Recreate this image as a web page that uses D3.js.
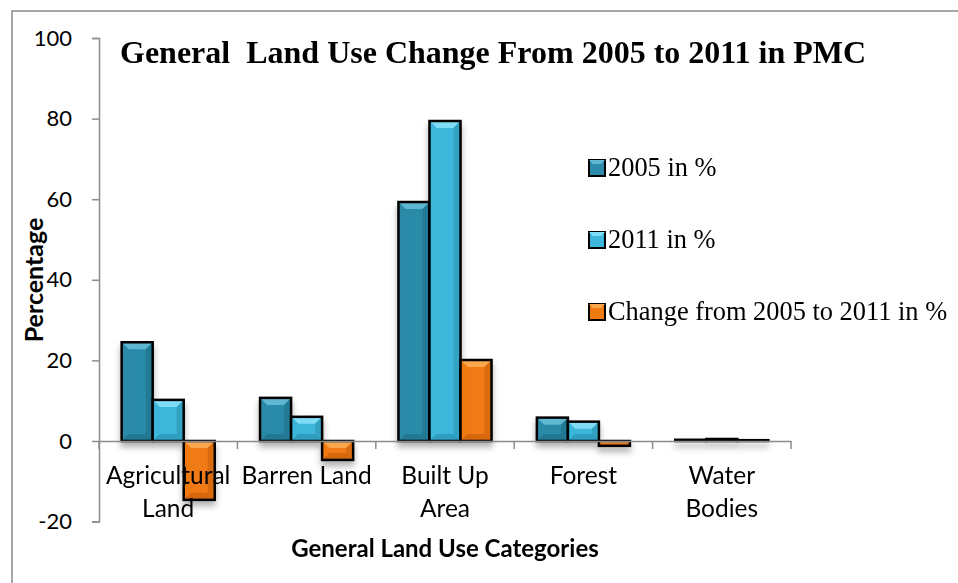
<!DOCTYPE html>
<html><head><meta charset="utf-8">
<script src="https://cdn.jsdelivr.net/npm/d3@7"></script>
<style>body{margin:0;background:#fff}svg{display:block}</style>
</head><body>
<svg id="c" width="958" height="583"></svg>
<script>
const categories = [["Agricultural","Land"],["Barren Land"],["Built Up","Area"],["Forest"],["Water","Bodies"]];
const categoryKeys = ["Agricultural Land","Barren Land","Built Up Area","Forest","Water Bodies"];
const seriesNames = ["2005 in %","2011 in %","Change from 2005 to 2011 in %"];
const values2005 = [24.5, 10.7, 59.3, 5.8, 0.3];
const values2011 = [10.2, 6.0, 79.4, 4.8, 0.5];
const valuesChange = [-14.6, -4.7, 20.1, -1.2, 0.2];
const yTicks = [-20, 0, 20, 40, 60, 80, 100];
const seriesColors = ["#2B8BA8", "#3CB6DA", "#F07A12"];
const seriesLight = ["#5FB7D1", "#7FDDF6", "#F9A64E"];
const seriesDark = ["#1F6F87", "#2A93B3", "#C9600A"];

const svg = d3.select("#c");
const defs = svg.append("defs");
const f = defs.append("filter").attr("id","sh").attr("x","-30%").attr("y","-30%").attr("width","160%").attr("height","160%");
f.append("feDropShadow").attr("dx",0).attr("dy",5).attr("stdDeviation",3).attr("flood-color","#000").attr("flood-opacity",0.3);

// outer frame
svg.append("rect").attr("x",12).attr("y",11).attr("width",980).attr("height",600)
  .attr("fill","none").attr("stroke","#8a8a8a").attr("stroke-width",1.5);

const y = d3.scaleLinear().domain([-20,100]).range([521.6,38]);
const x0 = d3.scaleBand().domain(categoryKeys).range([99,791]).padding(0);
const x1 = d3.scaleBand().domain(seriesNames).range([0,x0.bandwidth()]).paddingInner(0).paddingOuter(0.73);

const axisColor = "#8c8c8c";
const sans = "Lato, 'Open Sans', sans-serif";
// y axis
const yAxis = svg.append("g").attr("transform","translate(99,0)")
  .call(d3.axisLeft(y).tickValues(yTicks).tickSize(7).tickPadding(20).tickFormat(d => String(d)));
yAxis.select(".domain").attr("stroke",axisColor).attr("stroke-width",1.5);
yAxis.selectAll(".tick line").attr("stroke",axisColor).attr("stroke-width",1.5);
yAxis.selectAll(".tick text").attr("font-family",sans).attr("font-size",22).attr("fill","#000");

const data = categoryKeys.map((c,i)=>({cat:c, vals:[values2005[i],values2011[i],valuesChange[i]]}));

const barsG = svg.append("g").attr("filter","url(#sh)");
data.forEach(d=>{
  d.vals.forEach((v,si)=>{
    const bx = x0(d.cat)+x1(seriesNames[si]);
    const bw = x1.bandwidth();
    const top = y(Math.max(0,v)), bot = y(Math.min(0,v));
    const h = bot-top;
    const g = barsG.append("g");
    g.append("rect").attr("x",bx).attr("y",top).attr("width",bw).attr("height",h).attr("fill",seriesColors[si]);
    const b = Math.min(7, h/2, bw/2);
    if (b > 0.5) {
      g.append("path").attr("d",`M${bx},${top}L${bx+bw},${top}L${bx+bw-b},${top+b}L${bx+b},${top+b}Z`).attr("fill",seriesLight[si]);
      g.append("path").attr("d",`M${bx},${top}L${bx+b},${top+b}L${bx+b},${bot-b}L${bx},${bot}Z`).attr("fill",seriesColors[si]).attr("opacity",0.9);
      g.append("path").attr("d",`M${bx+bw},${top}L${bx+bw-b},${top+b}L${bx+bw-b},${bot-b}L${bx+bw},${bot}Z`).attr("fill",seriesDark[si]).attr("opacity",0.6);
      g.append("path").attr("d",`M${bx},${bot}L${bx+bw},${bot}L${bx+bw-b},${bot-b}L${bx+b},${bot-b}Z`).attr("fill",seriesDark[si]).attr("opacity",0.7);
    }
    g.append("rect").attr("x",bx).attr("y",top).attr("width",bw).attr("height",Math.max(h,0.5))
      .attr("fill","none").attr("stroke","#000").attr("stroke-width",2.5);
  });
});

// x axis at zero
const xAxis = svg.append("g").attr("transform",`translate(0,${y(0)})`)
  .call(d3.axisBottom(x0).tickSize(0).tickFormat(""));
xAxis.select(".domain").attr("stroke",axisColor).attr("stroke-width",1.5);
xAxis.selectAll(".tick").remove();
const boundaries = categoryKeys.map(c=>x0(c)).concat([x0(categoryKeys[categoryKeys.length-1])+x0.bandwidth()]);
svg.append("g").selectAll("line").data(boundaries).join("line")
  .attr("x1",d=>d).attr("x2",d=>d).attr("y1",y(0)).attr("y2",y(0)+8)
  .attr("stroke",axisColor).attr("stroke-width",1.5);

// category labels
const labG = svg.append("g").attr("font-family",sans).attr("font-size",24.5).attr("text-anchor","middle");
categories.forEach((lines,i)=>{
  const cx = x0(categoryKeys[i]) + x0.bandwidth()/2;
  lines.forEach((ln,j)=>{
    labG.append("text").attr("x",cx).attr("y",484+j*33).text(ln);
  });
});

// axis titles
svg.append("text").attr("x",445).attr("y",557).attr("text-anchor","middle")
  .attr("font-family",sans).attr("font-weight","bold").attr("font-size",24)
  .text("General Land Use Categories");
svg.append("text").attr("transform","translate(43,280) rotate(-90)").attr("text-anchor","middle")
  .attr("font-family",sans).attr("font-weight","bold").attr("font-size",25)
  .text("Percentage");

// title
svg.append("text").attr("x",120).attr("y",63).attr("font-family","'Liberation Serif','Times New Roman',serif")
  .attr("font-weight","bold").attr("font-size",32).style("white-space","pre")
  .text("General  Land Use Change From 2005 to 2011 in PMC");

// legend
const legY = [176, 248, 320];
const leg = svg.append("g");
seriesNames.forEach((s,i)=>{
  leg.append("rect").attr("x",589).attr("y",legY[i]-16).attr("width",16).attr("height",16)
    .attr("fill",seriesColors[i]).attr("stroke","#000").attr("stroke-width",2);
  leg.append("path").attr("d",`M589,${legY[i]-16}L605,${legY[i]-16}L601,${legY[i]-12}L593,${legY[i]-12}Z`).attr("fill",seriesLight[i]);
  leg.append("text").attr("x",608).attr("y",legY[i]).attr("font-family","'Liberation Serif','Times New Roman',serif")
    .attr("font-size",26.4).text(s);
});
</script>
</body></html>
